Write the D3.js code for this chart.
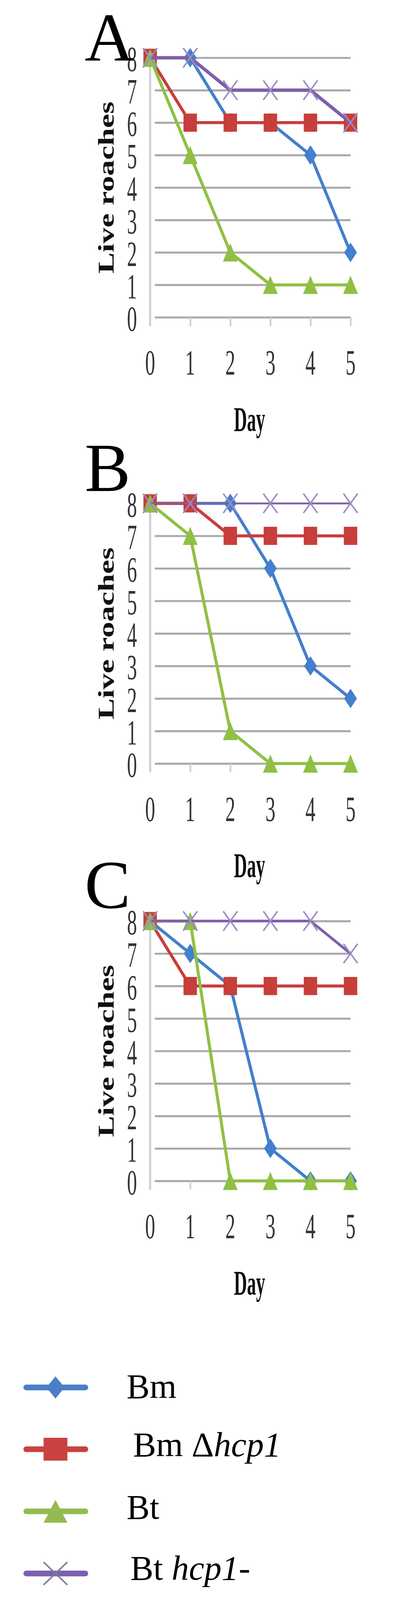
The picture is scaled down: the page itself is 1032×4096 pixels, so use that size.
<!DOCTYPE html>
<html>
<head>
<meta charset="utf-8">
<script src="https://cdn.jsdelivr.net/npm/d3@7"></script>
<style>
  html, body { margin: 0; padding: 0; background: #fff; }
  svg { display: block; }
</style>
</head>
<body>
<svg id="chart" width="1032" height="4096" viewBox="0 0 1200 4765"></svg>
<script>
// ---------- data ----------
const days = [0, 1, 2, 3, 4, 5];
const yTicks = [0, 1, 2, 3, 4, 5, 6, 7, 8];
const panelLabels = ["A", "B", "C"];
const seriesNames = ["Bm", "Bm \u0394hcp1", "Bt", "Bt hcp1-"];
const legendPlain = ["Bm", "Bm \u0394", "Bt", "Bt "];
const legendItalic = ["", "hcp1", "", "hcp1-"];
const yAxisTitle = "Live roaches";
const xAxisTitle = "Day";

// Panel A
const bmA      = [8, 8, 6, 6, 5, 2];
const bmDeltaA = [8, 6, 6, 6, 6, 6];
const btA      = [8, 5, 2, 1, 1, 1];
const btHcpA   = [8, 8, 7, 7, 7, 6];
// Panel B
const bmB      = [8, 8, 8, 6, 3, 2];
const bmDeltaB = [8, 8, 7, 7, 7, 7];
const btB      = [8, 7, 1, 0, 0, 0];
const btHcpB   = [8, 8, 8, 8, 8, 8];
// Panel C
const bmC      = [8, 7, 6, 1, 0, 0];
const bmDeltaC = [8, 6, 6, 6, 6, 6];
const btC      = [8, 8, 0, 0, 0, 0];
const btHcpC   = [8, 8, 8, 8, 8, 7];

const panelsData = [
  [bmA, bmDeltaA, btA, btHcpA],
  [bmB, bmDeltaB, btB, btHcpB],
  [bmC, bmDeltaC, btC, btHcpC]
];

// ---------- layout & style ----------
const colors = ["#437fcc", "#c83e3a", "#8fc044", "#7e5fa8"];
const markerKinds = ["diamond", "square", "triangle", "x"];
const panelTop = [172, 1499, 2743];     // pixel of value 8
const panelBottom = [945, 2274, 3517];  // pixel of value 0
const purpleWidth = [10, 5, 8];
const xLeft = 447, xRight = 1044;
const serif = "'Liberation Serif', 'Times New Roman', serif";

const svg = d3.select("#chart");
svg.append("rect").attr("width", 1200).attr("height", 4765).attr("fill", "#fff");

function markerPath(kind, w, h) {
  const p = d3.path();
  if (kind === "diamond") {
    p.moveTo(0, -h / 2); p.lineTo(w / 2, 0); p.lineTo(0, h / 2); p.lineTo(-w / 2, 0); p.closePath();
  } else if (kind === "square") {
    p.rect(-w / 2, -h / 2, w, h);
  } else if (kind === "triangle") {
    p.moveTo(0, -h / 2); p.lineTo(w / 2, h / 2); p.lineTo(-w / 2, h / 2); p.closePath();
  } else {
    p.moveTo(-w / 2, -h / 2); p.lineTo(w / 2, h / 2);
    p.moveTo(w / 2, -h / 2); p.lineTo(-w / 2, h / 2);
  }
  return p.toString();
}
const markerSize = {
  diamond: [38, 58], square: [40, 54], triangle: [44, 54], x: [42, 58]
};

function drawMarker(g, kind, color, w, h, strokeX) {
  if (kind === "x") {
    g.append("path").attr("d", markerPath(kind, w, h))
      .attr("fill", "none").attr("stroke", strokeX).attr("stroke-width", 4.5);
  } else {
    g.append("path").attr("d", markerPath(kind, w, h)).attr("fill", color);
  }
}

panelsData.forEach((series, pi) => {
  const y = d3.scaleLinear().domain([0, 8]).range([panelBottom[pi], panelTop[pi]]);
  const x = d3.scaleLinear().domain([0, 5]).range([xLeft, xRight]);
  const g = svg.append("g");

  // horizontal gridlines via axis
  const grid = g.append("g").attr("transform", `translate(${xLeft},0)`)
    .call(d3.axisLeft(y).tickValues(yTicks).tickFormat("")
      .tickSizeInner(-(xRight - xLeft)).tickSizeOuter(0));
  grid.select(".domain").remove();
  grid.selectAll(".tick line")
    .attr("x1", 14).attr("stroke", "#a9a9a9").attr("stroke-width", 6);

  // vertical axis line
  g.append("line")
    .attr("x1", xLeft).attr("x2", xLeft)
    .attr("y1", y(8)).attr("y2", y(0) + 26)
    .attr("stroke", "#cfcfcf").attr("stroke-width", 6);

  // x tick marks via axis
  const xa = g.append("g").attr("transform", `translate(0,${y(0)})`)
    .call(d3.axisBottom(x).tickValues(days).tickFormat("").tickSizeInner(26).tickSizeOuter(0));
  xa.select(".domain").remove();
  xa.selectAll(".tick line").attr("stroke", "#cfcfcf").attr("stroke-width", 5);

  // y tick labels
  g.selectAll(".ylab").data(yTicks).enter().append("text")
    .attr("transform", d => `translate(393,${y(d) + 40}) scale(0.56,1)`)
    .attr("text-anchor", "middle")
    .attr("font-family", serif).attr("font-size", 106).attr("fill", "#333")
    .text(d => d);

  // x tick labels
  g.selectAll(".xlab").data(days).enter().append("text")
    .attr("transform", d => `translate(${x(d)},${y(0) + 171}) scale(0.56,1)`)
    .attr("text-anchor", "middle")
    .attr("font-family", serif).attr("font-size", 106).attr("fill", "#333")
    .text(d => d);

  // axis titles
  g.append("text")
    .attr("transform", `translate(743,${y(0) + 338}) scale(0.52,1)`)
    .attr("text-anchor", "middle")
    .attr("font-family", serif).attr("font-weight", "bold").attr("font-size", 104).attr("fill", "#111")
    .text(xAxisTitle);

  const mid = (y(0) + y(8)) / 2;
  g.append("text")
    .attr("transform", `translate(338,${mid}) rotate(-90)`)
    .attr("text-anchor", "middle")
    .attr("font-family", serif).attr("font-weight", "bold").attr("font-size", 66).attr("fill", "#111")
    .attr("textLength", 513).attr("lengthAdjust", "spacingAndGlyphs")
    .text(yAxisTitle);

  // panel letter
  g.append("text")
    .attr("x", 252).attr("y", [180, 1462, 2704][pi])
    .attr("font-family", serif).attr("font-size", 205).attr("fill", "#000")
    .text(panelLabels[pi]);

  // series: line then markers, in order
  const line = d3.line().x((d, i) => x(days[i])).y(d => y(d));
  series.forEach((vals, si) => {
    const sg = g.append("g");
    sg.append("path").datum(vals).attr("d", line)
      .attr("fill", "none").attr("stroke", colors[si])
      .attr("stroke-width", si === 3 ? purpleWidth[pi] : 9)
      .attr("stroke-linejoin", "round");
    const kind = markerKinds[si];
    const [w, h] = markerSize[kind];
    vals.forEach((v, i) => {
      const mg = sg.append("g").attr("transform", `translate(${x(days[i])},${y(v)})`);
      drawMarker(mg, kind, colors[si], w, h, "#9a8bc9");
    });
  });
});

// ---------- legend ----------
const legendRows = d3.scaleOrdinal().domain(seriesNames).range([4132, 4316, 4501, 4686]);
const legendTextX = [377, 396, 377, 388];
const legendBaseline = [4163, 4337, 4523, 4705];
const legendColors = ["#4a7fc7", "#c8423f", "#93bb52", "#7b5fb0"];
const legendMarker = { diamond: [54, 66], square: [71, 68], triangle: [71, 68], x: [71, 68] };

seriesNames.forEach((name, si) => {
  const ry = legendRows(name);
  const lg = svg.append("g");
  lg.append("line").attr("x1", 78).attr("x2", 254).attr("y1", ry).attr("y2", ry)
    .attr("stroke", legendColors[si]).attr("stroke-width", 17).attr("stroke-linecap", "round");
  const kind = markerKinds[si];
  const [w, h] = legendMarker[kind];
  const mg = lg.append("g").attr("transform", `translate(165,${ry})`);
  drawMarker(mg, kind, legendColors[si], w, h, "#7a7a9a");
  const t = lg.append("text").attr("x", legendTextX[si]).attr("y", legendBaseline[si])
    .attr("font-family", serif).attr("font-size", 103).attr("fill", "#000");
  t.append("tspan").text(legendPlain[si]);
  if (legendItalic[si]) t.append("tspan").attr("font-style", "italic").text(legendItalic[si]);
});
</script>
</body>
</html>
